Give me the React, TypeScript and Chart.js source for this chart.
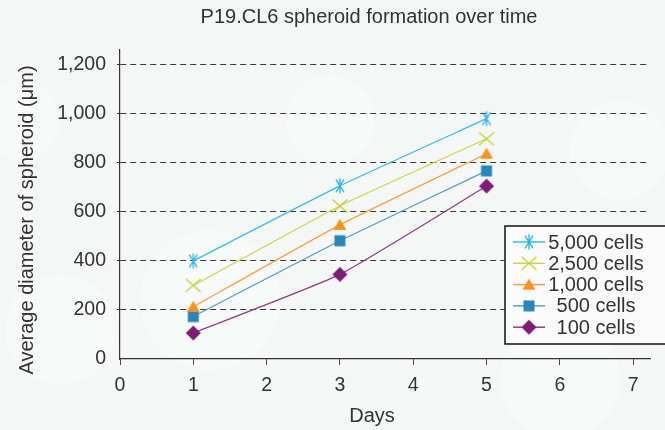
import React, { useEffect, useRef } from "react";
import { Chart, registerables } from "chart.js";

Chart.register(...registerables);

const days = [1, 3, 5];
const seriesLabels = ["5,000 cells", "2,500 cells", "1,000 cells", "500 cells", "100 cells"];
const cells5000 = [400, 706, 980];
const cells2500 = [300, 624, 898];
const cells1000 = [213, 547, 837];
const cells500 = [173, 482, 767];
const cells100 = [106, 345, 705];
const xTicks = [0, 1, 2, 3, 4, 5, 6, 7];
const yTicks = [0, 200, 400, 600, 800, 1000, 1200];

const FONT = "'Liberation Sans', Arial, sans-serif";
const TEXT = "#333333";

type Kind = "asterisk" | "x" | "triangle" | "square" | "diamond";

function makeMarker(kind: Kind, color: string): HTMLCanvasElement {
  const s = 18;
  const c = document.createElement("canvas");
  c.width = s;
  c.height = s;
  const ctx = c.getContext("2d")!;
  const cx = s / 2;
  const cy = s / 2;
  ctx.strokeStyle = color;
  ctx.fillStyle = color;
  ctx.lineWidth = 1.3;
  if (kind === "asterisk") {
    ctx.beginPath();
    ctx.moveTo(cx, cy - 7.5);
    ctx.lineTo(cx, cy + 7.5);
    const a = (58 * Math.PI) / 180;
    const r = 7.5;
    ctx.moveTo(cx - Math.cos(a) * r, cy - Math.sin(a) * r);
    ctx.lineTo(cx + Math.cos(a) * r, cy + Math.sin(a) * r);
    ctx.moveTo(cx + Math.cos(a) * r, cy - Math.sin(a) * r);
    ctx.lineTo(cx - Math.cos(a) * r, cy + Math.sin(a) * r);
    ctx.stroke();
  } else if (kind === "x") {
    ctx.beginPath();
    ctx.moveTo(cx - 7.5, cy - 6.5);
    ctx.lineTo(cx + 7.5, cy + 6.5);
    ctx.moveTo(cx + 7.5, cy - 6.5);
    ctx.lineTo(cx - 7.5, cy + 6.5);
    ctx.stroke();
  } else if (kind === "triangle") {
    ctx.beginPath();
    ctx.moveTo(cx, cy - 6);
    ctx.lineTo(cx + 6.5, cy + 5);
    ctx.lineTo(cx - 6.5, cy + 5);
    ctx.closePath();
    ctx.fill();
  } else if (kind === "square") {
    ctx.fillRect(cx - 5.5, cy - 5.5, 11, 11);
  } else {
    ctx.beginPath();
    ctx.moveTo(cx, cy - 7.5);
    ctx.lineTo(cx + 7.5, cy);
    ctx.lineTo(cx, cy + 7.5);
    ctx.lineTo(cx - 7.5, cy);
    ctx.closePath();
    ctx.fill();
  }
  return c;
}

export default function App() {
  const ref = useRef<HTMLCanvasElement | null>(null);

  useEffect(() => {
    if (!ref.current) return;
    const values = [cells5000, cells2500, cells1000, cells500, cells100];
    const kinds: Kind[] = ["asterisk", "x", "triangle", "square", "diamond"];
    const markerColors = ["#27b4ef", "#c3d036", "#f7931c", "#2a86b8", "#7e1d74"];
    const lineColors = ["#36bcf0", "#cad54c", "#f8a044", "#519dc8", "#913d8a"];
    const markers = kinds.map((k, i) => makeMarker(k, markerColors[i]));

    const datasets = values.map((vals, i) => ({
      label: seriesLabels[i],
      data: days.map((d, j) => ({ x: d, y: vals[j] })),
      borderColor: lineColors[i],
      backgroundColor: markerColors[i],
      borderWidth: 1.2,
      tension: 0.15,
      pointStyle: markers[i],
      pointRadius: 8,
      order: i,
    }));

    const decor = {
      id: "decor",
      beforeDraw(chart: any) {
        const ctx = chart.ctx;
        ctx.save();
        ctx.fillStyle = "#f5f6f6";
        ctx.fillRect(0, 0, chart.width, chart.height);
        ctx.fillStyle = "rgba(255,255,255,0.3)";
        const circles = [
          [60, 330, 55], [210, 300, 70], [330, 120, 45], [560, 380, 60], [620, 150, 50], [20, 120, 40],
        ];
        for (const [x, y, r] of circles) {
          ctx.beginPath();
          ctx.arc(x, y, r, 0, Math.PI * 2);
          ctx.fill();
        }
        ctx.restore();
      },
      afterDraw(chart: any) {
        const ctx = chart.ctx;
        ctx.save();
        ctx.fillStyle = TEXT;
        ctx.textAlign = "center";
        ctx.textBaseline = "middle";
        ctx.font = `20px ${FONT}`;
        ctx.fillText("P19.CL6 spheroid formation over time", 369, 17);
        ctx.font = `20px ${FONT}`;
        ctx.fillText("Days", 372, 416);
        ctx.save();
        ctx.font = `20px ${FONT}`;
        ctx.translate(27, 220);
        ctx.rotate(-Math.PI / 2);
        ctx.fillText("Average diameter of spheroid (\u03bcm)", 0, 0);
        ctx.restore();

        // legend
        const bx = 505, by = 226, bw = 170, bh = 118;
        ctx.fillStyle = "#fbfbfb";
        ctx.fillRect(bx, by, bw, bh);
        ctx.strokeStyle = "#111111";
        ctx.lineWidth = 1.5;
        ctx.strokeRect(bx, by, bw, bh);
        ctx.font = `20px ${FONT}`;
        seriesLabels.forEach((lab, i) => {
          const y = 242 + i * 21.3;
          ctx.strokeStyle = lineColors[i];
          ctx.lineWidth = 1.5;
          ctx.beginPath();
          ctx.moveTo(513, y);
          ctx.lineTo(545, y);
          ctx.stroke();
          const m = markers[i];
          ctx.drawImage(m, 529 - m.width / 2, y - m.height / 2);
          ctx.fillStyle = TEXT;
          ctx.textAlign = "center";
          ctx.fillText(lab, 596, y + 1);
        });
        ctx.restore();
      },
    };

    const chart = new Chart(ref.current, {
      type: "line",
      data: { datasets: datasets as any },
      options: {
        animation: false,
        responsive: false,
        maintainAspectRatio: false,
        layout: { padding: { top: 50, right: 15, left: 0, bottom: 0 } },
        plugins: {
          legend: { display: false },
          title: { display: false },
          tooltip: { enabled: false },
        },
        scales: {
          x: {
            type: "linear",
            min: 0,
            max: 7.23,
            afterFit: (s: any) => { s.height = 71; },
            afterBuildTicks: (s: any) => { s.ticks = xTicks.map((v) => ({ value: v })); },
            ticks: {
              includeBounds: false,
              padding: 9,
              color: TEXT,
              font: { family: FONT, size: 19.5 },
              maxRotation: 0,
            },
            grid: {
              drawOnChartArea: false,
              drawTicks: true,
              tickLength: 6,
              tickColor: "#444444",
              color: "#444444",
            },
            border: { color: "#333333", width: 1.2 },
          },
          y: {
            type: "linear",
            min: 0,
            max: 1260,
            afterFit: (s: any) => { s.width = 120; },
            afterBuildTicks: (s: any) => { s.ticks = yTicks.map((v) => ({ value: v })); },
            ticks: {
              includeBounds: false,
              padding: 11,
              color: TEXT,
              font: { family: FONT, size: 19.5 },
              callback: (v: any) => Number(v).toLocaleString("en-US"),
            },
            grid: {
              color: (c: any) => (c.tick && c.tick.value === 0 ? "rgba(0,0,0,0)" : "#3a3a3a"),
              lineWidth: 1,
              tickLength: 3,
              tickColor: (c: any) => (c.tick && c.tick.value === 0 ? "rgba(0,0,0,0)" : "#3a3a3a"),
            },
            border: { color: "#333333", width: 1.2, dash: [6, 4] },
          },
        },
      } as any,
      plugins: [decor],
    });
    return () => chart.destroy();
  }, []);

  return (
    <div style={{ position: "fixed", left: 0, top: 0, width: 665, height: 430 }}>
      <canvas ref={ref} width={665} height={430} style={{ width: 665, height: 430 }} />
    </div>
  );
}
